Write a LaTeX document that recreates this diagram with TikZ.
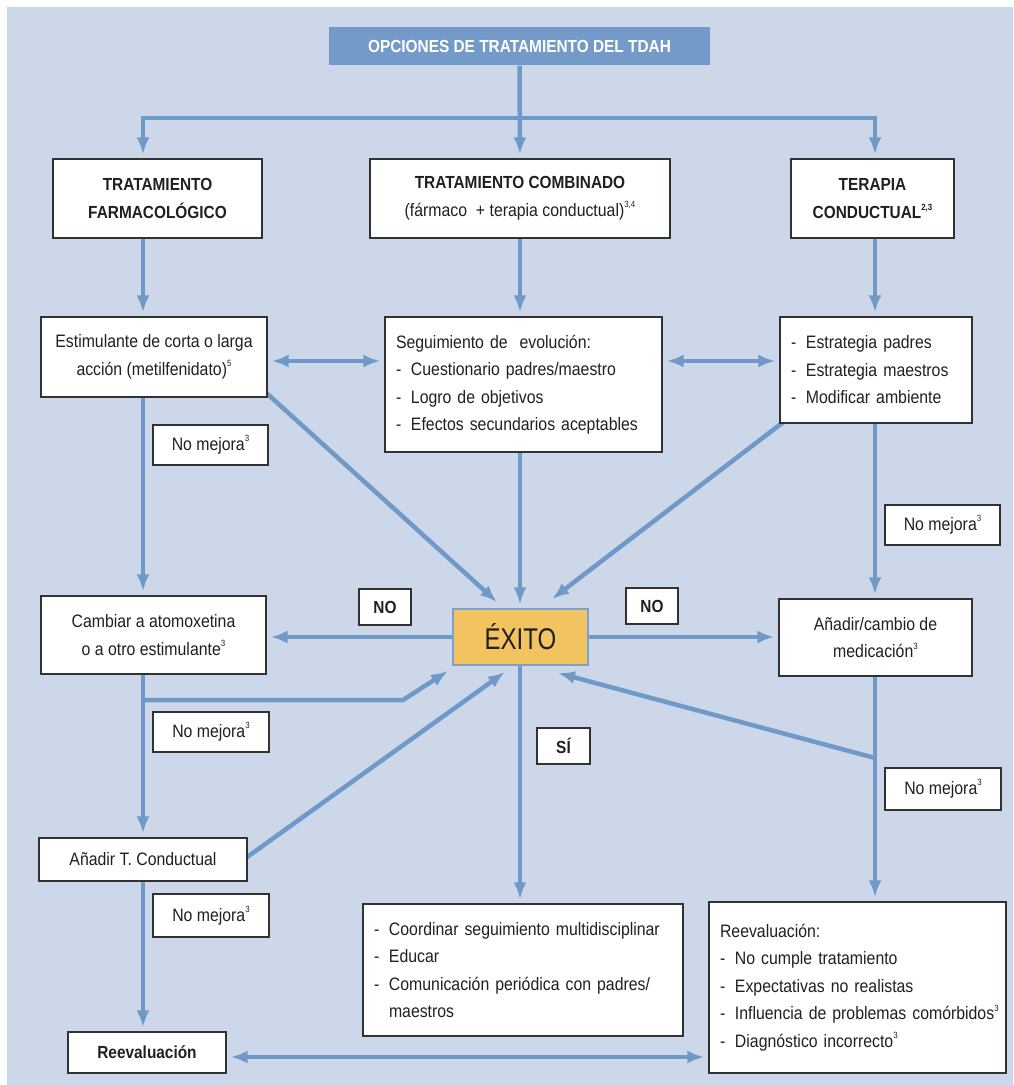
\documentclass[tikz,border=0pt]{standalone}
\usepackage{fontspec}
\setmainfont{Liberation Sans}[FakeStretch=0.88]
\newfontfamily\exitofont{Liberation Sans}[FakeStretch=0.8]
\usetikzlibrary{arrows.meta,calc}
\pgfdeclarelayer{bgl}\pgfdeclarelayer{lines}\pgfsetlayers{bgl,lines,main}
\definecolor{bgc}{RGB}{204,216,234}
\definecolor{linec}{RGB}{112,153,200}
\definecolor{titlec}{RGB}{115,154,200}
\definecolor{exitoc}{RGB}{242,195,97}
\definecolor{exb}{RGB}{125,160,205}
\definecolor{boxc}{RGB}{50,50,50}
\definecolor{txtc}{RGB}{35,31,32}
\newcommand\supr[1]{\raisebox{0.48em}{\fontsize{9}{9}\selectfont #1}}
\newcommand\itm[1]{\mbox{\makebox[15pt][l]{-}#1}}
\begin{document}
\begin{tikzpicture}[x=1pt,y=-1pt,
  bx/.style={draw=boxc, line width=1.4pt, fill=white, inner sep=0pt, text=txtc,
    font=\fontsize{18}{27.5}\selectfont, align=center},
  bxb/.style={bx, font=\bfseries\fontsize{17.5}{28}\selectfont},
  lst/.style={bx, align=left, inner xsep=11pt},
  conn/.style={draw=linec, line width=4.5pt},
  arr/.style={conn, -{Latex[length=17pt,width=13pt]}, shorten >=4pt},
  arrd/.style={conn, -{Latex[length=17pt,width=13pt]}},
  darr/.style={conn, {Latex[length=17pt,width=13pt]}-{Latex[length=17pt,width=13pt]}, shorten >=4pt, shorten <=4pt}]
\useasboundingbox (0,0) rectangle (1013,1085);
\begin{pgfonlayer}{bgl}
\fill[white] (0,0) rectangle (1013,1085);
\fill[bgc] (7,7) rectangle (1013,1085);
\end{pgfonlayer}
% nodes
\node[bx, fill=titlec, draw=none, text=white, font=\bfseries\fontsize{17.5}{20}\selectfont,
  minimum width=381pt, minimum height=38pt] (title) at (519.5,46) {OPCIONES DE TRATAMIENTO DEL TDAH};
\node[bxb, minimum width=209pt, minimum height=79pt] (tf) at (157.5,198.5) {TRATAMIENTO\\FARMACOLÓGICO};
\node[bx, minimum width=300pt, minimum height=79pt] (tc) at (520,198.5)
  {\textbf{\fontsize{17.5}{28}\selectfont TRATAMIENTO COMBINADO}\\(fármaco \ + terapia conductual)\supr{3,4}};
\node[bxb, minimum width=163pt, minimum height=79pt] (tcd) at (872.5,198.5) {TERAPIA\\CONDUCTUAL\supr{2,3}};
\node[bx, minimum width=226pt, minimum height=80pt] (est) at (154,357) {Estimulante de corta o larga\\acción (metilfenidato)\supr{5}};
\node[lst, text width=255pt, minimum height=135pt] (seg) at (523.5,384.5)
  {Seguimiento de \ evolución:\\\itm{Cuestionario padres/maestro}\\\itm{Logro de objetivos}\\\itm{Efectos secundarios aceptables}};
\node[lst, text width=170pt, minimum height=106pt] (estr) at (876,370)
  {\itm{Estrategia padres}\\\itm{Estrategia maestros}\\\itm{Modificar ambiente}};
\node[bx, minimum width=115pt, minimum height=40pt] (nm1) at (210.5,445) {No mejora\supr{3}};
\node[bx, minimum width=225pt, minimum height=78pt] (cam) at (153.5,635) {Cambiar a atomoxetina\\o a otro estimulante\supr{3}};
\node[bxb, minimum width=52pt, minimum height=36pt] (nol) at (385,607) {NO};
\node[draw=exb, line width=1.2pt, fill=exitoc, minimum width=135pt, minimum height=56pt, inner sep=0pt,
  font=\exitofont\fontsize{30}{30}\selectfont, text=txtc] (exito) at (520.5,637) {ÉXITO};
\node[bxb, minimum width=52pt, minimum height=36pt] (nor) at (652,606) {NO};
\node[bx, minimum width=193pt, minimum height=77pt] (anm) at (875.5,637.5) {Añadir/cambio de\\medicación\supr{3}};
\node[bx, minimum width=115pt, minimum height=40pt] (nm2) at (942.5,525) {No mejora\supr{3}};
\node[bx, minimum width=116pt, minimum height=40pt] (nm3) at (211,732) {No mejora\supr{3}};
\node[bxb, minimum width=53pt, minimum height=36pt] (sii) at (563.5,746) {SÍ};
\node[bx, minimum width=116pt, minimum height=42pt] (nm4) at (943,789) {No mejora\supr{3}};
\node[bx, minimum width=208pt, minimum height=43pt] (atc) at (143,859.5) {Añadir T. Conductual};
\node[bx, minimum width=116pt, minimum height=43pt] (nm5) at (211,915.5) {No mejora\supr{3}};
\node[bxb, minimum width=158pt, minimum height=41pt] (reev) at (147,1052.5) {Reevaluación};
\node[lst, text width=298pt, minimum height=132pt] (coord) at (523,970)
  {\itm{Coordinar seguimiento multidisciplinar}\\\itm{Educar}\\\itm{Comunicación periódica con padres/}\\\hspace*{15pt}maestros};
\node[lst, text width=275pt, minimum height=171pt] (reevr) at (857.5,987.5)
  {Reevaluación:\\\itm{No cumple tratamiento}\\\itm{Expectativas no realistas}\\\itm{Influencia de problemas comórbidos\supr{3}}\\\itm{Diagnóstico incorrecto\supr{3}}};
% connectors
\begin{pgfonlayer}{lines}
\coordinate (hub) at (520,118);
\coordinate (hl) at (143,118);
\coordinate (hr) at (875,118);
\draw[arr] (hub) -| (hl |- tf.north);
\draw[arr] (hub) -| (hr |- tcd.north);
\draw[arr] (title.south) -- (tc.north);
\draw[arr] (hl |- tf.south) -- (hl |- est.north);
\draw[arr] (tc.south) -- (tc.south |- seg.north);
\draw[arr] (hr |- tcd.south) -- (hr |- estr.north);
\draw[darr] (est.east |- 0,361) -- (seg.west |- 0,361);
\draw[darr] (seg.east |- 0,361) -- (estr.west |- 0,361);
\draw[arr] (hl |- est.south) -- (hl |- cam.north);
\coordinate (d1s) at (262,389);
\coordinate (d1e) at (497,602);
\draw[arrd] (d1s) -- (d1e);
\draw[arr] (seg.south -| tc.south) -- (exito.north -| tc.south);
\coordinate (d2s) at (786,420);
\coordinate (d2e) at (552,599);
\draw[arrd] (d2s) -- (d2e);
\draw[arr] (hr |- estr.south) -- (hr |- anm.north);
\draw[arr] (exito.west) -- (cam.east |- exito.west);
\draw[arr] (exito.east) -- (anm.west |- exito.east);
\draw[arr] (hl |- cam.south) -- (hl |- atc.north);
\coordinate (br) at (143,700);
\coordinate (bk) at (403,700);
\coordinate (d3e) at (448,671);
\draw[arrd] (br) -- (bk) -- (d3e);
\coordinate (d4s) at (243,860);
\coordinate (d4e) at (505,672);
\draw[arrd] (d4s) -- (d4e);
\draw[arr] (hl |- atc.south) -- (hl |- reev.north);
\draw[arr] (hr |- anm.south) -- (hr |- reevr.north);
\coordinate (d5s) at (875,758);
\coordinate (d5e) at (558,673);
\draw[arrd] (d5s) -- (d5e);
\draw[arr] (exito.south -| tc.south) -- (coord.north -| tc.south);
\draw[darr] (reev.east |- 0,1057) -- (reevr.west |- 0,1057);
\end{pgfonlayer}
\end{tikzpicture}
\end{document}
